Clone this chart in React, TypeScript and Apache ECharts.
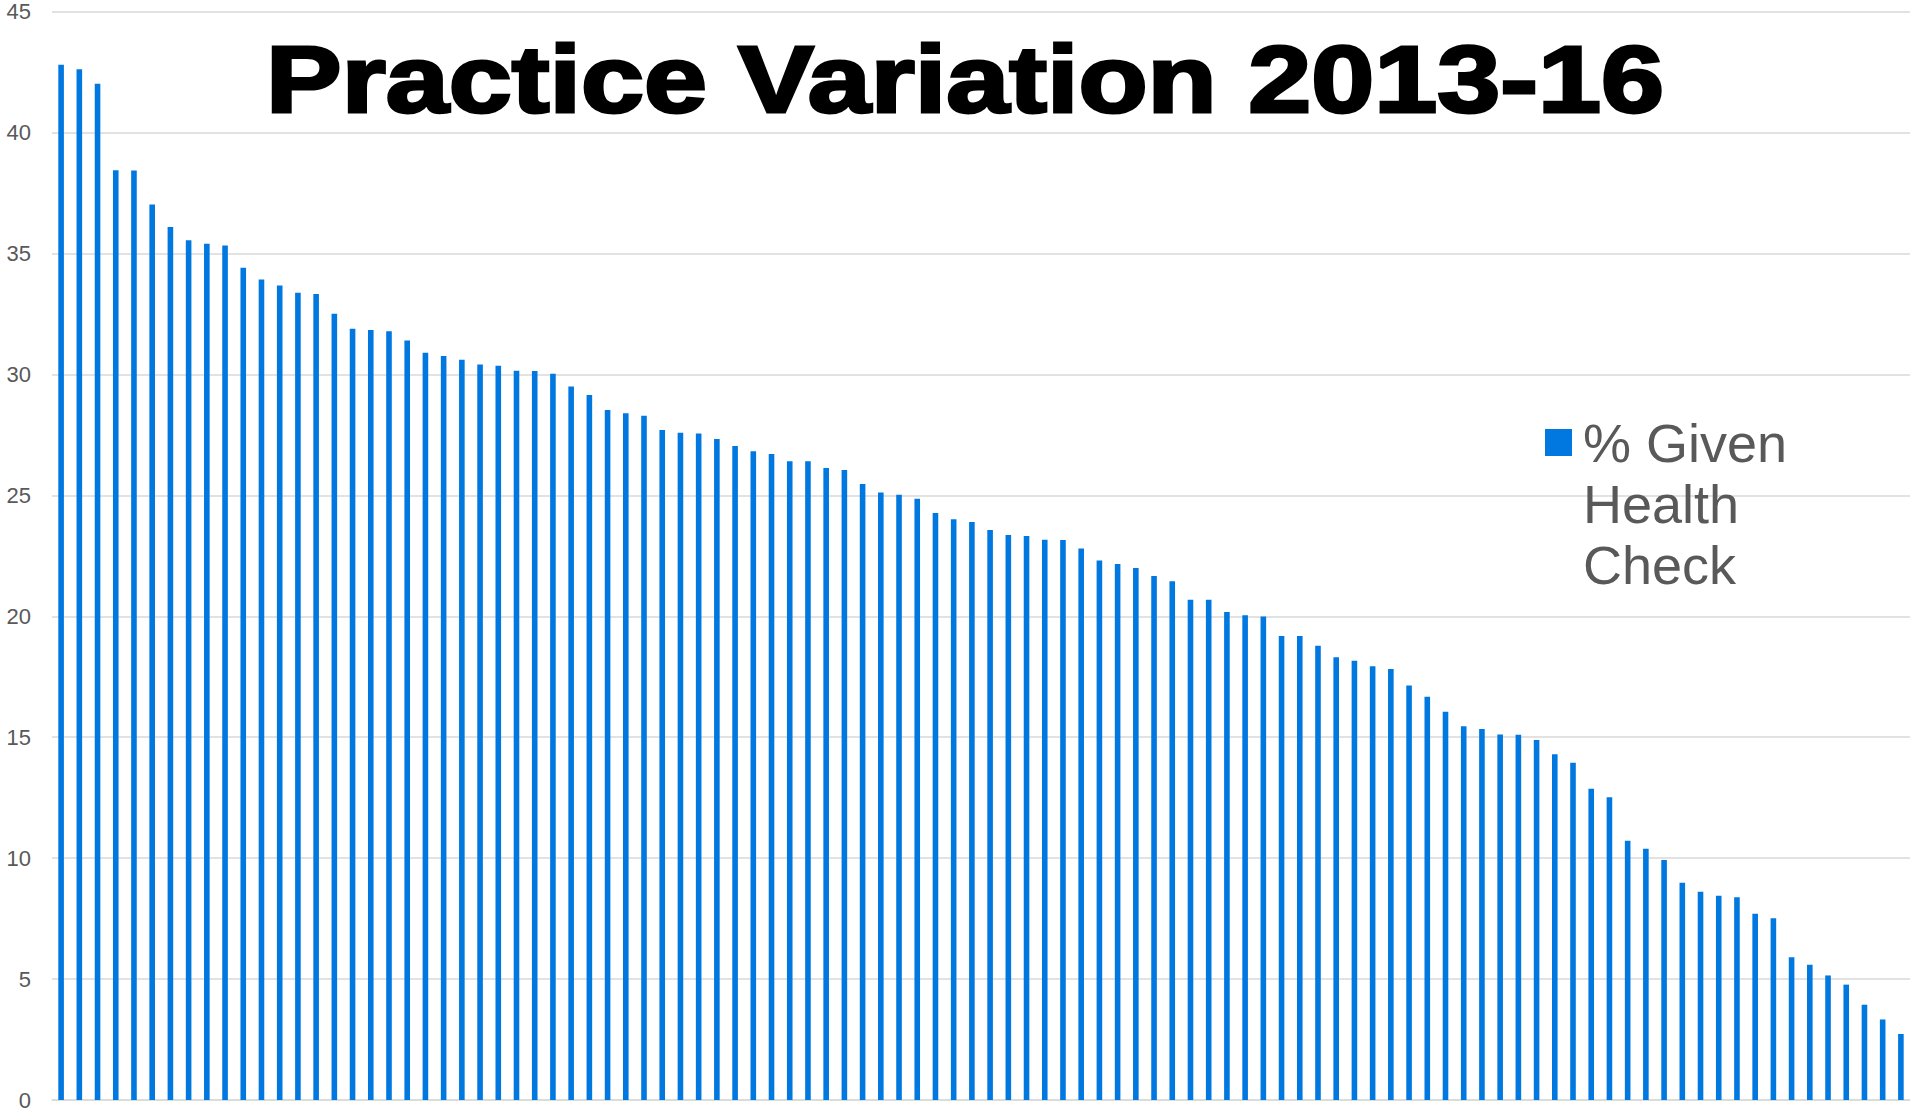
import React, { useEffect, useRef } from "react";
import * as echarts from "echarts";

const titleText = "Practice Variation 2013-16";
const seriesName = "% Given Health Check";
const legendLines = ["% Given", "Health", "Check"];

// % of eligible patients given a health check, one bar per practice (sorted)
const healthCheckPct = [
  42.81, 42.62, 42.02, 38.44, 38.43, 37.03, 36.1, 35.55, 35.41, 35.33,
  34.41, 33.93, 33.68, 33.38, 33.33, 32.51, 31.89, 31.84, 31.79, 31.4,
  30.9, 30.76, 30.61, 30.41, 30.36, 30.15, 30.14, 30.03, 29.5, 29.15,
  28.53, 28.4, 28.29, 27.7, 27.59, 27.56, 27.33, 27.04, 26.82, 26.71,
  26.41, 26.41, 26.13, 26.05, 25.47, 25.12, 25.03, 24.86, 24.27, 24.01,
  23.9, 23.57, 23.36, 23.32, 23.17, 23.16, 22.8, 22.31, 22.16, 22.0,
  21.67, 21.45, 20.68, 20.68, 20.18, 20.04, 19.99, 19.19, 19.19, 18.78,
  18.31, 18.16, 17.93, 17.82, 17.14, 16.67, 16.05, 15.45, 15.34, 15.11,
  15.1, 14.89, 14.3, 13.94, 12.87, 12.52, 10.72, 10.39, 9.92, 8.98,
  8.61, 8.45, 8.38, 7.7, 7.52, 5.9, 5.59, 5.15, 4.77, 3.94,
  3.33, 2.73,
];

const practices = healthCheckPct.map((_, i) => `Practice ${i + 1}`);

const yMin = 0;
const yMax = 45;
const yStep = 5;

const FONT = "'Liberation Sans', Arial, Helvetica, sans-serif";

export default function App() {
  const ref = useRef<HTMLDivElement>(null);

  useEffect(() => {
    if (!ref.current) return;
    const chart = echarts.init(ref.current, null, { renderer: "svg" });
    chart.setOption({
      animation: false,
      backgroundColor: "#ffffff",
      grid: { left: 52, right: 0, top: 11.7, bottom: 10.3, containLabel: false },
      xAxis: {
        type: "category",
        data: practices,
        boundaryGap: true,
        axisLine: { show: true, lineStyle: { color: "#d9d9d9", width: 1.5 } },
        axisTick: { show: false },
        axisLabel: { show: false },
        splitLine: { show: false },
      },
      yAxis: {
        type: "value",
        min: yMin,
        max: yMax,
        interval: yStep,
        axisLine: { show: false },
        axisTick: { show: false },
        axisLabel: {
          color: "#595959",
          fontSize: 22,
          fontFamily: FONT,
          margin: 21,
        },
        splitLine: { lineStyle: { color: "#d9d9d9", width: 1.5 } },
      },
      legend: {
        show: true,
        orient: "vertical",
        left: 1545,
        top: 290,
        padding: 0,
        icon: "rect",
        itemWidth: 27,
        itemHeight: 27,
        itemGap: 0,
        selectedMode: false,
        // two leading empty lines so the first text line sits beside the icon
        formatter: () => "\n\n" + legendLines.join("\n"),
        textStyle: {
          color: "#595959",
          fontSize: 54,
          lineHeight: 61,
          fontFamily: FONT,
          padding: [0, 0, 0, 6],
        },
      },
      graphic: [
        {
          type: "text",
          x: 965,
          y: 79,
          scaleX: 1.205,
          style: {
            text: titleText,
            fill: "#000000",
            stroke: "#000000",
            lineWidth: 3,
            font: `bold 94px ${FONT}`,
            textAlign: "center",
            textVerticalAlign: "middle",
          },
        },
      ],
      series: [
        {
          type: "bar",
          name: seriesName,
          data: healthCheckPct,
          barWidth: 5.6,
          itemStyle: { color: "#0078e0" },
        },
      ],
    });
    return () => chart.dispose();
  }, []);

  return (
    <div
      ref={ref}
      style={{ position: "fixed", left: 0, top: 0, width: 1910, height: 1111 }}
    />
  );
}
